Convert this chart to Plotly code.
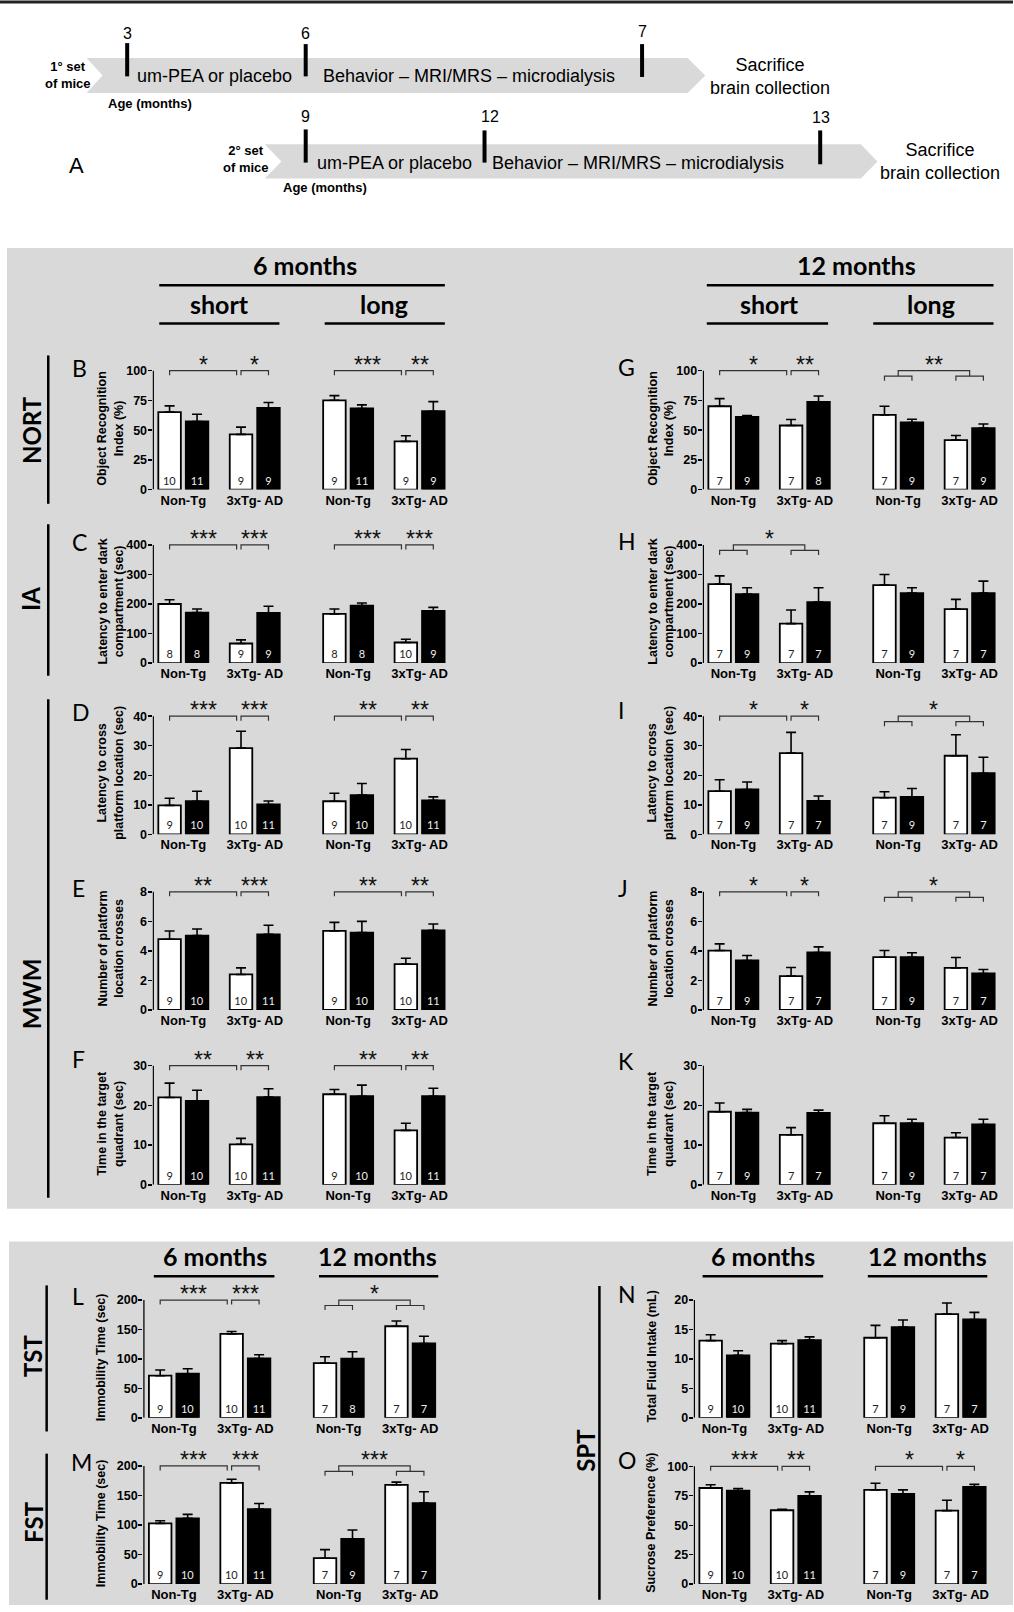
import plotly.graph_objects as go

W, H = 1014, 1612

# ---------------- data ----------------
groups = ["Non-Tg", "3xTg- AD"]
# each list: [Non-Tg placebo, Non-Tg um-PEA, 3xTg placebo, 3xTg um-PEA] for first block (short / 6 months)
# followed by the same four for the second block (long / 12 months)

B_mean = [65.1, 57.3, 46.4, 68.7, 75.1, 68.2, 40.5, 65.9]
B_sem = [5.3, 6.1, 6.1, 4.5, 3.9, 3.0, 4.8, 8.1]
B_n = [10, 11, 9, 9, 9, 11, 9, 9]

C_mean = [200.0, 170.8, 66.3, 169.7, 166.3, 194.4, 69.7, 176.4]
C_sem = [14.6, 12.4, 12.4, 22.5, 16.9, 9.0, 11.2, 12.4]
C_n = [8, 8, 9, 9, 8, 8, 10, 9]

D_mean = [9.8, 11.2, 29.2, 10.1, 11.2, 13.3, 25.6, 11.5]
D_sem = [2.4, 3.4, 5.7, 1.2, 2.7, 3.9, 3.1, 1.2]
D_n = [9, 10, 10, 11, 9, 10, 10, 11]

E_mean = [4.79, 5.03, 2.40, 5.12, 5.35, 5.24, 3.10, 5.39]
E_sem = [0.56, 0.45, 0.45, 0.61, 0.58, 0.76, 0.40, 0.43]
E_n = [9, 10, 10, 11, 9, 10, 10, 11]

F_mean = [22.0, 21.1, 10.2, 22.1, 22.8, 22.3, 13.7, 22.3]
F_sem = [3.6, 2.7, 1.5, 2.1, 1.2, 2.8, 1.8, 2.0]
F_n = [9, 10, 10, 11, 9, 10, 10, 11]

G_mean = [70.1, 61.2, 53.9, 73.7, 62.8, 56.4, 41.6, 51.7]
G_sem = [6.4, 1.1, 5.0, 5.0, 7.3, 2.8, 3.9, 3.4]
G_n = [7, 9, 7, 8, 7, 9, 7, 9]

H_mean = [267.4, 233.7, 133.7, 206.7, 264.0, 237.0, 183.0, 237.0]
H_sem = [28.0, 21.3, 46.0, 48.3, 36.0, 18.0, 32.6, 40.4]
H_n = [7, 9, 7, 7, 7, 9, 7, 7]

I_mean = [14.6, 15.2, 27.5, 11.3, 12.4, 12.7, 26.6, 20.7]
I_sem = [3.9, 2.5, 7.0, 1.7, 2.0, 2.8, 7.1, 5.4]
I_n = [7, 9, 7, 7, 7, 9, 7, 7]

J_mean = [4.02, 3.35, 2.29, 3.89, 3.57, 3.57, 2.85, 2.47]
J_sem = [0.45, 0.34, 0.58, 0.38, 0.45, 0.30, 0.70, 0.27]
J_n = [7, 9, 7, 7, 7, 9, 7, 7]

K_mean = [18.4, 18.2, 12.6, 18.1, 15.5, 15.5, 11.9, 15.2]
K_sem = [2.2, 0.8, 1.8, 0.7, 1.9, 1.0, 1.2, 1.3]
K_n = [7, 9, 7, 7, 7, 9, 7, 7]

L_mean = [71.5, 74.9, 142.5, 100.8, 93.0, 100.3, 155.5, 126.2]
L_sem = [9.6, 8.5, 4.0, 6.2, 10.7, 11.8, 9.0, 12.4]
L_n = [9, 10, 10, 11, 7, 8, 7, 7]

M_mean = [102.8, 111.2, 171.3, 127.0, 43.8, 76.4, 168.0, 137.0]
M_sem = [4.5, 6.7, 6.2, 9.5, 14.6, 15.2, 4.5, 19.2]
M_n = [9, 10, 10, 11, 7, 9, 7, 7]

N_mean = [13.1, 10.6, 12.6, 13.2, 13.6, 15.4, 17.6, 16.7]
N_sem = [1.0, 0.8, 0.5, 0.55, 2.1, 1.2, 1.9, 1.2]
N_n = [9, 10, 10, 11, 7, 9, 7, 7]

O_mean = [81.6, 79.4, 62.7, 74.9, 80.0, 76.6, 62.4, 82.5]
O_sem = [2.8, 1.7, 0.8, 3.4, 5.6, 3.4, 8.8, 2.2]
O_n = [9, 10, 10, 11, 7, 9, 7, 7]

# significance: per block, None / ("pair", s1, s2) / ("nested", s)
B_sig = [("pair", "*", "*"), ("pair", "***", "**")]
C_sig = [("pair", "***", "***"), ("pair", "***", "***")]
D_sig = [("pair", "***", "***"), ("pair", "**", "**")]
E_sig = [("pair", "**", "***"), ("pair", "**", "**")]
F_sig = [("pair", "**", "**"), ("pair", "**", "**")]
G_sig = [("pair", "*", "**"), ("nested", "**")]
H_sig = [("nested", "*"), None]
I_sig = [("pair", "*", "*"), ("nested", "*")]
J_sig = [("pair", "*", "*"), ("nested", "*")]
K_sig = [None, None]
L_sig = [("pair", "***", "***"), ("nested", "*")]
M_sig = [("pair", "***", "***"), ("nested", "***")]
N_sig = [None, None]
O_sig = [("pair", "***", "**"), ("pair", "*", "*")]

T_NORT = "Object Recognition<br>Index (%)"
T_IA = "Latency to enter dark<br>compartment (sec)"
T_LAT = "Latency to cross<br>platform location (sec)"
T_CROSS = "Number of platform<br>location crosses"
T_QUAD = "Time in the target<br>quadrant (sec)"
T_IMM = "Immobility Time (sec)"
T_FLUID = "Total Fluid Intake (mL)"
T_SUC = "Sucrose Preference (%)"

panels = [
    ("B", B_mean, B_sem, B_n, 100, 25, T_NORT, B_sig),
    ("C", C_mean, C_sem, C_n, 400, 100, T_IA, C_sig),
    ("D", D_mean, D_sem, D_n, 40, 10, T_LAT, D_sig),
    ("E", E_mean, E_sem, E_n, 8, 2, T_CROSS, E_sig),
    ("F", F_mean, F_sem, F_n, 30, 10, T_QUAD, F_sig),
    ("G", G_mean, G_sem, G_n, 100, 25, T_NORT, G_sig),
    ("H", H_mean, H_sem, H_n, 400, 100, T_IA, H_sig),
    ("I", I_mean, I_sem, I_n, 40, 10, T_LAT, I_sig),
    ("J", J_mean, J_sem, J_n, 8, 2, T_CROSS, J_sig),
    ("K", K_mean, K_sem, K_n, 30, 10, T_QUAD, K_sig),
    ("L", L_mean, L_sem, L_n, 200, 50, T_IMM, L_sig),
    ("M", M_mean, M_sem, M_n, 200, 50, T_IMM, M_sig),
    ("N", N_mean, N_sem, N_n, 20, 5, T_FLUID, N_sig),
    ("O", O_mean, O_sem, O_n, 100, 25, T_SUC, O_sig),
]

ages_set1 = ["3", "6", "7"]
ages_set2 = ["9", "12", "13"]
phases = ["um-PEA or placebo", "Behavior – MRI/MRS – microdialysis"]

# ---------------- layout geometry (pixels) ----------------
UNIT = 27.5
XR = [-0.62, 10.1]
POS = [0, 1, 2.6, 3.6, 6.0, 7.0, 8.6, 9.6]
BARW = 0.82
EXT = 22
# panel: (y-axis x, pixel of 0, pixel of top tick, letter x, letter y)
GEOM = {
    "B": (152.7, 491.7, 372.3, 70, 369.3),
    "C": (152.7, 666.0, 547.3, 70, 544.0),
    "D": (152.7, 838.0, 719.3, 70, 715.0),
    "E": (152.7, 1014.3, 895.7, 70, 892.3),
    "F": (152.7, 1190.0, 1070.3, 70, 1063.5),
    "G": (703.3, 491.7, 372.3, 617, 368.3),
    "H": (703.3, 666.0, 547.3, 617, 543.3),
    "I": (703.3, 838.0, 719.3, 617, 713.3),
    "J": (703.3, 1014.3, 895.7, 617, 891.7),
    "K": (703.3, 1190.0, 1070.3, 617, 1066.0),
    "L": (143.3, 1424.0, 1305.7, 70, 1301.7),
    "M": (143.3, 1591.0, 1472.3, 69, 1468.3),
    "N": (694.3, 1424.0, 1305.7, 617, 1300.0),
    "O": (694.3, 1591.0, 1472.7, 617, 1466.7),
}

ARIAL = "Liberation Sans, Arial, sans-serif"
CAL = "Lato, Open Sans, sans-serif"


def fx(px):
    return px / W


def fy(py):
    return 1 - py / H


fig = go.Figure()
shapes = []
annots = []
axes = {}

bar_colors = ["white", "black"] * 4
num_colors = ["#222222", "#eeeeee"] * 4
pair_centers = [(POS[0] + POS[1]) / 2, (POS[2] + POS[3]) / 2,
                (POS[4] + POS[5]) / 2, (POS[6] + POS[7]) / 2]

for i, (L, mean, sem, n, ymax, dtick, title, sigs) in enumerate(panels, 1):
    sfx = "" if i == 1 else str(i)
    xa, ya = "x" + sfx, "y" + sfx
    left, y0, y1, lx, ly = GEOM[L]
    k = ymax / (y0 - y1)
    top = ymax + EXT * k
    axes["xaxis" + sfx] = dict(
        domain=[fx(left), fx(left + (XR[1] - XR[0]) * UNIT)], range=XR, anchor=ya,
        showline=False, showgrid=False, zeroline=False, ticks="",
        ticklabelstandoff=1,
        tickvals=pair_centers, ticktext=groups * 2,
        tickfont=dict(family=ARIAL, size=13, color="black", weight="bold"),
        fixedrange=True)
    axes["yaxis" + sfx] = dict(
        domain=[fy(y0), fy(y1 - EXT)], range=[0, top], anchor=xa,
        showline=False, showgrid=False, zeroline=False,
        ticks="outside", ticklen=4, tickwidth=1.4, tickcolor="black",
        ticklabelstandoff=-2,
        tickvals=list(range(0, ymax + 1, dtick)),
        tickfont=dict(family=ARIAL, size=12.5, color="black", weight="bold"),
        fixedrange=True)

    fig.add_trace(go.Bar(
        x=POS, y=mean, width=BARW, xaxis=xa, yaxis=ya,
        marker=dict(color=bar_colors, line=dict(color="black", width=1.8)),
        error_y=dict(type="data", array=sem, arrayminus=[0] * len(sem), symmetric=False,
                     color="black", thickness=1.6, width=5),
        text=[str(v) for v in n], textposition="inside", insidetextanchor="start",
        textangle=0, insidetextfont=dict(family=CAL, size=11, color=num_colors),
        showlegend=False, hoverinfo="skip"))

    # y axis line up to the top tick
    shapes.append(dict(type="line", xref=xa, yref=ya, x0=XR[0] + 0.025, x1=XR[0] + 0.025,
                       y0=0, y1=ymax, line=dict(color="black", width=1.4), layer="above"))

    # significance brackets
    bx, by = [], []
    for h, sig in enumerate(sigs):
        if sig is None:
            continue
        p = POS[4 * h:4 * h + 4]
        if sig[0] == "pair":
            spans = [(p[0], p[2] - 0.16), (p[2], p[3])]
            for (a, b), s in zip(spans, sig[1:]):
                bx += [a, a, b, b, None]
                by += [ymax - 4.5 * k, ymax, ymax, ymax - 4.5 * k, None]
                annots.append(dict(xref=xa, yref=ya, x=(a + b) / 2, y=ymax, text=s,
                                   showarrow=False, xanchor="center", yanchor="bottom",
                                   yshift=-9, font=dict(family=ARIAL, size=23, color="#111")))
        else:
            m1, m2 = (p[0] + p[1]) / 2, (p[2] + p[3]) / 2
            sl, st = ymax - 5.5 * k, ymax - 10 * k
            bx += [p[0], p[0], p[1], p[1], None, p[2], p[2], p[3], p[3], None,
                   m1, m1, m2, m2, None]
            by += [st, sl, sl, st, None, st, sl, sl, st, None, sl, ymax, ymax, sl, None]
            annots.append(dict(xref=xa, yref=ya, x=(m1 + m2) / 2, y=ymax, text=sig[1],
                               showarrow=False, xanchor="center", yanchor="bottom",
                               yshift=-9, font=dict(family=ARIAL, size=23, color="#111")))
    if bx:
        fig.add_trace(go.Scatter(x=bx, y=by, mode="lines", xaxis=xa, yaxis=ya,
                                 line=dict(color="#333", width=1.2),
                                 showlegend=False, hoverinfo="skip"))

    # y axis title
    annots.append(dict(xref="paper", yref="paper", x=fx(left - 42), y=fy((y0 + y1) / 2 - 2),
                       text=title, textangle=-90, showarrow=False, xanchor="center",
                       yanchor="middle", align="center",
                       font=dict(family=ARIAL, size=12.5, color="black", weight="bold")))
    # panel letter
    annots.append(dict(xref="paper", yref="paper", x=fx(lx), y=fy(ly), text=L,
                       showarrow=False, xanchor="left", yanchor="middle",
                       font=dict(family=CAL, size=23, color="black")))

# ---------------- gray backgrounds ----------------
GRAY = "#d9d9d9"
shapes.append(dict(type="rect", xref="paper", yref="paper", x0=fx(7), x1=fx(1014),
                   y0=fy(1214), y1=fy(249), fillcolor=GRAY, line=dict(width=0), layer="below"))
shapes.append(dict(type="rect", xref="paper", yref="paper", x0=fx(9), x1=fx(1014),
                   y0=fy(1612), y1=fy(1247), fillcolor=GRAY, line=dict(width=0), layer="below"))
# top border
shapes.append(dict(type="line", xref="paper", yref="paper", x0=0, x1=1, y0=fy(2), y1=fy(2),
                   line=dict(color="#222", width=3)))


def hline(x0, x1, y, w=2.5):
    shapes.append(dict(type="line", xref="paper", yref="paper", x0=fx(x0), x1=fx(x1),
                       y0=fy(y), y1=fy(y), line=dict(color="black", width=w)))


def vline(x, y0, y1, w=2.5):
    shapes.append(dict(type="line", xref="paper", yref="paper", x0=fx(x), x1=fx(x),
                       y0=fy(y0), y1=fy(y1), line=dict(color="black", width=w)))


def text(x, y, s, size, family=CAL, bold=False, angle=0, xanchor="center", color="black"):
    annots.append(dict(xref="paper", yref="paper", x=fx(x), y=fy(y), text=s, showarrow=False,
                       xanchor=xanchor, yanchor="middle", textangle=angle, align="center",
                       font=dict(family=family, size=size, color=color,
                                 weight="bold" if bold else "normal")))


# ---------------- headers ----------------
HS = 25
text(305.4, 266.4, "6 months", HS, bold=True)
hline(159.4, 445.3, 286.5)
text(220, 305.5, "short", HS, bold=True)
hline(159.4, 279.7, 325)
text(384.6, 305.5, "long", HS, bold=True)
hline(325, 445.3, 325)
text(857.7, 266.4, "12 months", HS, bold=True)
hline(707.5, 994.5, 286.5)
text(770.3, 305.5, "short", HS, bold=True)
hline(707.5, 828.9, 325)
text(931.7, 305.5, "long", HS, bold=True)
hline(874.1, 994.5, 325)

text(215, 1261.7, "6 months", HS, bold=True)
hline(154, 274.7, 1281.7)
text(378.3, 1261.7, "12 months", HS, bold=True)
hline(319.3, 438.7, 1281.7)
text(763.3, 1261.7, "6 months", HS, bold=True)
hline(703.3, 824, 1281.7)
text(928.3, 1261.7, "12 months", HS, bold=True)
hline(868.7, 988.3, 1281.7)

# row labels
RS = 24
text(31, 432, "NORT", RS, bold=True, angle=-90)
vline(48.3, 357, 506)
text(31, 601.6, "IA", RS, bold=True, angle=-90)
vline(48.3, 526.5, 678.7)
text(31, 997.5, "MWM", RS, bold=True, angle=-90)
vline(48.3, 702.4, 1203)
text(33.3, 1361.7, "TST", RS, bold=True, angle=-90)
vline(46.7, 1291, 1437.7)
text(33.3, 1528.3, "FST", RS, bold=True, angle=-90)
vline(46.7, 1460, 1606.7)
text(586, 1456.7, "SPT", RS, bold=True, angle=-90)
vline(600, 1291.7, 1606.7)

# ---------------- timeline (panel A) ----------------
def band(xl, xn, xf, xt, yt, yb):
    ym = (yt + yb) / 2
    pts = [(xl, yt), (xf, yt), (xt, ym), (xf, yb), (xl, yb), (xn, ym)]
    path = "M " + " L ".join(f"{fx(a):.5f},{fy(b):.5f}" for a, b in pts) + " Z"
    shapes.append(dict(type="path", xref="paper", yref="paper", path=path,
                       fillcolor=GRAY, line=dict(width=0), layer="below"))


band(86.7, 102.7, 688.3, 706.0, 58.3, 93.3)
band(265.0, 281.7, 861.7, 878.3, 145.0, 179.3)

for (xb, yt, yb, xl, yl), lab in zip([(127.3, 43.3, 76.7, 127.3, 33.3),
                                      (306.0, 44.3, 76.7, 305.7, 33.3),
                                      (642.7, 44.3, 77.3, 642.7, 31.5)], ages_set1):
    vline(xb, yt, yb, w=4)
    text(xl, yl, lab, 16, family=ARIAL)
for (xb, yt, yb, xl, yl), lab in zip([(306.0, 130.0, 163.3, 305.7, 116.7),
                                      (485.0, 131.0, 163.3, 490.0, 116.7),
                                      (821.0, 131.0, 165.0, 821.7, 118.3)], ages_set2):
    vline(xb, yt, yb, w=4)
    text(xl, yl, lab, 16, family=ARIAL)

text(135, 76.5, phases[0], 18, family=ARIAL, xanchor="left")
text(321.7, 76.5, phases[1], 18, family=ARIAL, xanchor="left")
text(315, 163.5, phases[0], 18, family=ARIAL, xanchor="left")
text(490, 163.5, phases[1], 18, family=ARIAL, xanchor="left")

text(68, 75, "1° set<br>of mice", 13, family=ARIAL, bold=True)
text(245.8, 160, "2° set<br>of mice", 13, family=ARIAL, bold=True)
text(150.5, 103.5, "Age (months)", 13, family=ARIAL, bold=True)
text(325.8, 188.3, "Age (months)", 13, family=ARIAL, bold=True)
text(770.8, 76.5, "Sacrifice<br>brain collection", 18, family=ARIAL)
text(940.8, 162.5, "Sacrifice<br>brain collection", 18, family=ARIAL)
text(76.7, 166.5, "A", 22, family=ARIAL)

fig.update_layout(
    width=W, height=H, autosize=False,
    margin=dict(l=0, r=0, t=0, b=0),
    paper_bgcolor="white", plot_bgcolor="rgba(0,0,0,0)",
    barmode="overlay", showlegend=False, hovermode=False,
    shapes=shapes, annotations=annots, **axes)

fig.write_html(
    "out.html",
    config={"displayModeBar": False, "staticPlot": True, "responsive": False},
    post_script="var de=document.documentElement, bd=document.body;"
                "bd.style.margin='0px'; bd.style.padding='0px';"
                "de.style.height='1612px'; bd.style.height='1612px';"
                "de.style.overflow='hidden'; bd.style.overflow='hidden';")
